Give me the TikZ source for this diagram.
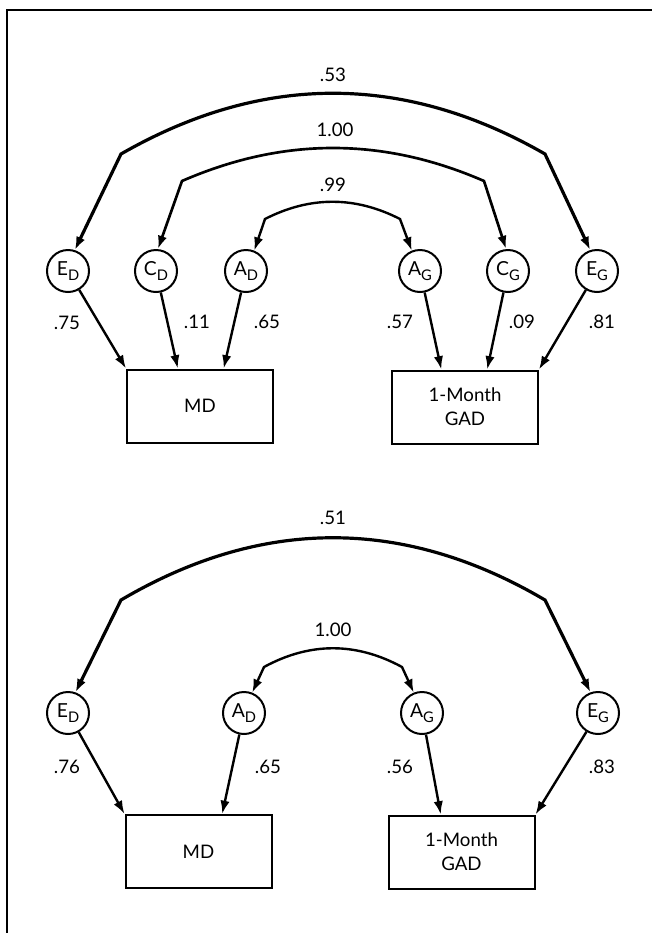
\documentclass[tikz,border=0pt]{standalone}
\usepackage{fontspec}
\setmainfont{Lato}
\usetikzlibrary{arrows.meta, calc}
\newcommand{\lsub}[1]{\raisebox{-0.45ex}{\fontsize{11}{11}\selectfont #1}}

\begin{document}
\begin{tikzpicture}[x=0.75pt, y=-0.75pt,
    latent/.style={circle, draw, line width=1.5pt, minimum size=31.5pt, inner sep=0pt, font=\fontsize{14.5}{14.5}\selectfont},
    obs/.style={rectangle, draw, line width=1.5pt, minimum width=109.5pt, minimum height=54.75pt, align=center, font=\fontsize{14}{18}\selectfont},
    load/.style={line width=1.8pt, -{Latex[length=10pt, width=7pt]}},
    corr/.style={line width=1.8pt, {Latex[length=10pt, width=7pt]}-{Latex[length=10pt, width=7pt]}},
    val/.style={font=\fontsize{14}{14}\selectfont}]
            \useasboundingbox (0,0) rectangle (652,933);
            \draw[line width=1.5pt] (7,933) -- (7,10) -- (652,10);

            % full ACE model
            \node[latent] (ED) at (68,271) {E\lsub{D}};
            \node[latent] (CD) at (156,271) {C\lsub{D}};
            \node[latent] (AD) at (246,271) {A\lsub{D}};
            \node[latent] (AG) at (420,271) {A\lsub{G}};
            \node[latent] (CG) at (508,271) {C\lsub{G}};
            \node[latent] (EG) at (597,271) {E\lsub{G}};
            \node[obs] (MD) at (200,406) {MD};
            \node[obs] (GAD) at (465,407) {1-Month\\GAD};
            \coordinate (md1) at ($(MD.north west)!.35!(MD.north east)$);
            \coordinate (md2) at ($(MD.north west)!.66!(MD.north east)$);
            \coordinate (gad1) at ($(GAD.north west)!.34!(GAD.north east)$);
            \coordinate (gad2) at ($(GAD.north west)!.65!(GAD.north east)$);
            \draw[load] (ED) -- (MD.north west);
            \draw[load] (CD) -- (md1);
            \draw[load] (AD) -- (md2);
            \draw[load] (AG) -- (gad1);
            \draw[load] (CG) -- (gad2);
            \draw[load] (EG) -- (GAD.north east);
            \node[val] (lED) at (67,323) {.75};
            \node[val] (lCD) at (197,322) {.11};
            \node[val] (lAD) at (267,322) {.65};
            \node[val] (lAG) at (400,322) {.57};
            \node[val] (lCG) at (522,322) {.09};
            \node[val] (lEG) at (602,322) {.81};
            \coordinate (e1) at (121,154);
            \coordinate (e2) at (545,154);
            \coordinate (c1) at (182,181);
            \coordinate (c2) at (484,181);
            \coordinate (a1) at (265,219);
            \coordinate (a2) at (400,219);
            \draw[corr, line width=2.4pt] (ED.72) -- (e1) .. controls (262,73) and (404,73) .. (e2) -- (EG.108);
            \draw[corr, line width=2pt] (CD.85) -- (c1) .. controls (283,137) and (383,137) .. (c2) -- (CG.95);
            \draw[corr] (AD.68) -- (a1) .. controls (310,196) and (355,196) .. (a2) -- (AG.112);
            \node[val] (rE) at (333,75) {.53};
            \node[val] (rC) at (335,130) {1.00};
            \node[val] (rA) at (333,185) {.99};

            % AE model
            \node[latent] (ED2) at (68,713) {E\lsub{D}};
            \node[latent] (AD2) at (244,713) {A\lsub{D}};
            \node[latent] (AG2) at (422,713) {A\lsub{G}};
            \node[latent] (EG2) at (598,713) {E\lsub{G}};
            \node[obs] (MD2) at (198.5,851.5) {MD};
            \node[obs] (GAD2) at (461.5,852) {1-Month\\GAD};
            \coordinate (md3) at ($(MD2.north west)!.66!(MD2.north east)$);
            \coordinate (gad3) at ($(GAD2.north west)!.36!(GAD2.north east)$);
            \draw[load] (ED2) -- (MD2.north west);
            \draw[load] (AD2) -- (md3);
            \draw[load] (AG2) -- (gad3);
            \draw[load] (EG2) -- (GAD2.north east);
            \node[val] (lED2) at (67,767) {.76};
            \node[val] (lAD2) at (268,767) {.65};
            \node[val] (lAG2) at (400,767) {.56};
            \node[val] (lEG2) at (602,767) {.83};
            \coordinate (e3) at (121,600);
            \coordinate (e4) at (545,600);
            \coordinate (a3) at (264,667);
            \coordinate (a4) at (402,667);
            \draw[corr, line width=2.4pt] (ED2.70) -- (e3) .. controls (262,517) and (404,517) .. (e4) -- (EG2.110);
            \draw[corr] (AD2.68) -- (a3) .. controls (310,642) and (356,642) .. (a4) -- (AG2.112);
            \node[val] (rE2) at (333,518) {.51};
            \node[val] (rA2) at (333,630) {1.00};
        \end{tikzpicture}
\end{document}
